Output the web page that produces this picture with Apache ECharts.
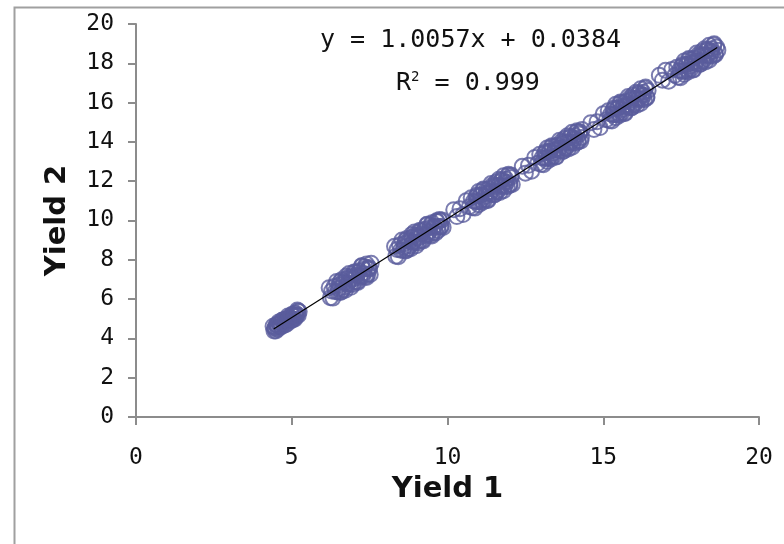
<!DOCTYPE html>
<html>
<head>
<meta charset="utf-8">
<script src="https://cdn.jsdelivr.net/npm/echarts@6/dist/echarts.min.js"></script>
<style>html,body{margin:0;padding:0;background:#fff}#c{width:784px;height:544px}</style>
</head>
<body>
<div id="c"></div>
<script>
// Yield 1 (x) values, first batch, one line per cluster
var yield1 = [
  4.40,4.43,4.46,4.49,4.52,4.55,4.58,4.61,4.64,4.67,4.70,4.73,4.76,4.79,4.82,4.85,4.88,4.91,4.94,4.97,5.00,5.03,5.06,5.09,5.12,5.15,5.18,5.21,5.24,
  6.20,6.24,6.28,6.32,6.36,6.40,6.44,6.48,6.52,6.56,6.60,6.64,6.68,6.72,6.76,6.80,6.84,6.88,6.92,6.96,7.00,7.04,7.08,7.12,7.16,7.20,7.24,7.28,7.32,7.36,7.40,7.44,7.48,7.52,7.55,
  8.30,8.34,8.38,8.42,8.46,8.50,8.54,8.58,8.62,8.66,8.70,8.74,8.78,8.82,8.86,8.90,8.94,8.98,9.02,9.06,9.10,9.14,9.18,9.22,9.26,9.30,9.34,9.38,9.42,9.46,9.50,9.54,9.58,9.62,9.66,9.70,9.74,9.78,9.82,9.86,
  10.20,10.30,10.40,10.50,10.60,10.70,
  10.76,10.80,10.84,10.88,10.92,10.96,11.00,11.04,11.08,11.12,11.16,11.20,11.24,11.28,11.32,11.36,11.40,11.44,11.48,11.52,11.56,11.60,11.64,11.68,11.72,11.76,11.80,11.84,11.88,11.92,11.96,12.00,12.04,12.08,
  12.40,12.50,12.60,12.70,12.80,12.90,
  12.96,13.00,13.04,13.08,13.12,13.16,13.20,13.24,13.28,13.32,13.36,13.40,13.44,13.48,13.52,13.56,13.60,13.64,13.68,13.72,13.76,13.80,13.84,13.88,13.92,13.96,14.00,14.04,14.08,14.12,14.16,14.20,14.24,14.28,14.32,
  14.60,14.70,14.80,14.90,15.00,15.10,
  15.16,15.20,15.24,15.28,15.32,15.36,15.40,15.44,15.48,15.52,15.56,15.60,15.64,15.68,15.72,15.76,15.80,15.84,15.88,15.92,15.96,16.00,16.04,16.08,16.12,16.16,16.20,16.24,16.28,16.32,16.36,16.40,16.44,
  16.80,16.90,17.00,17.10,17.20,17.30,
  17.36,17.40,17.44,17.48,17.52,17.56,17.60,17.64,17.68,17.72,17.76,17.80,17.84,17.88,17.92,17.96,18.00,18.04,18.08,18.12,18.16,18.20,18.24,18.28,18.32,18.36,18.40,18.44,18.48,18.52,18.56,18.60,18.64,18.68
];
// Yield 2 (y) values, first batch, matching yield1
var yield2 = [
  4.62,4.38,4.56,4.38,4.69,4.57,4.84,4.58,4.77,4.59,4.92,4.68,4.86,4.68,4.99,4.87,5.14,4.88,5.07,4.89,5.22,4.98,5.16,4.98,5.29,5.17,5.44,5.18,5.37,
  6.58,6.07,6.41,6.05,6.64,6.38,6.90,6.36,6.72,6.34,6.98,6.47,6.81,6.45,7.04,6.78,7.30,6.76,7.12,6.74,7.38,6.87,7.21,6.85,7.44,7.18,7.70,7.16,7.52,7.14,7.78,7.27,7.61,7.25,7.83,
  8.69,8.18,8.52,8.16,8.75,8.49,9.01,8.47,8.83,8.45,9.09,8.58,8.92,8.56,9.15,8.89,9.41,8.87,9.23,8.85,9.49,8.98,9.32,8.96,9.55,9.29,9.81,9.27,9.63,9.25,9.89,9.38,9.72,9.36,9.95,9.69,10.05,9.67,10.03,9.65,
  10.55,10.20,10.60,10.30,11.00,10.70,
  11.16,10.65,10.99,10.63,11.22,10.96,11.48,10.94,11.30,10.92,11.56,11.05,11.39,11.03,11.62,11.36,11.88,11.34,11.70,11.32,11.96,11.45,11.79,11.43,12.02,11.76,12.28,11.74,12.10,11.72,12.36,11.85,12.19,11.83,
  12.76,12.41,12.81,12.51,13.21,12.91,
  13.37,12.86,13.20,12.84,13.43,13.17,13.69,13.15,13.51,13.13,13.77,13.26,13.60,13.24,13.83,13.57,14.09,13.55,13.91,13.53,14.17,13.66,14.00,13.64,14.23,13.97,14.49,13.95,14.31,13.93,14.57,14.06,14.40,14.04,14.63,
  14.98,14.63,15.03,14.73,15.43,15.13,
  15.59,15.08,15.42,15.06,15.65,15.39,15.91,15.37,15.73,15.35,15.99,15.48,15.82,15.46,16.05,15.79,16.31,15.77,16.13,15.75,16.39,15.88,16.22,15.86,16.45,16.19,16.71,16.17,16.53,16.15,16.79,16.28,16.62,
  17.39,17.14,17.64,17.09,17.69,17.39,
  17.80,17.29,17.63,17.27,17.86,17.60,18.12,17.58,17.94,17.56,18.20,17.69,18.03,17.67,18.26,18.00,18.52,17.98,18.34,17.96,18.60,18.09,18.43,18.07,18.66,18.40,18.92,18.38,18.74,18.36,19.00,18.49,18.83,18.67
];
// Yield 1 (x) values, second batch (dense cores of the clusters)
var yield1b = [
  4.45,4.50,4.55,4.60,4.65,4.70,4.75,4.80,4.85,4.90,4.95,5.00,5.05,5.10,5.15,5.20,
  6.50,6.55,6.60,6.65,6.70,6.75,6.80,6.85,6.90,6.95,7.00,7.05,7.10,7.15,7.20,7.25,7.30,7.35,7.40,7.45,7.50,
  8.60,8.65,8.70,8.75,8.80,8.85,8.90,8.95,9.00,9.05,9.10,9.15,9.20,9.25,9.30,9.35,9.40,9.45,9.50,9.55,9.60,9.65,9.70,9.75,9.80,
  10.90,10.95,11.00,11.05,11.10,11.15,11.20,11.25,11.30,11.35,11.40,11.45,11.50,11.55,11.60,11.65,11.70,11.75,11.80,11.85,11.90,11.95,12.00,12.05,
  13.10,13.15,13.20,13.25,13.30,13.35,13.40,13.45,13.50,13.55,13.60,13.65,13.70,13.75,13.80,13.85,13.90,13.95,14.00,14.05,14.10,14.15,14.20,14.25,14.30,
  15.30,15.35,15.40,15.45,15.50,15.55,15.60,15.65,15.70,15.75,15.80,15.85,15.90,15.95,16.00,16.05,16.10,16.15,16.20,16.25,16.30,16.35,16.40,
  17.50,17.55,17.60,17.65,17.70,17.75,17.80,17.85,17.90,17.95,18.00,18.05,18.10,18.15,18.20,18.25,18.30,18.35,18.40,18.45,18.50,18.55,18.60
];
// Yield 2 (y) values, second batch, matching yield1b
var yield2b = [
  4.49,4.69,4.47,4.75,4.63,4.94,4.78,4.98,4.74,4.98,4.99,5.19,4.97,5.25,5.13,5.40,
  6.53,6.88,6.38,6.88,6.60,7.18,6.80,7.15,6.60,7.05,7.03,7.38,6.88,7.38,7.10,7.68,7.30,7.65,7.10,7.55,7.53,
  8.64,8.99,8.49,8.99,8.71,9.29,8.91,9.26,8.71,9.16,9.14,9.49,8.99,9.49,9.21,9.79,9.41,9.76,9.21,9.66,9.64,9.99,9.49,9.99,9.71,
  10.95,11.30,10.80,11.30,11.02,11.60,11.22,11.57,11.02,11.47,11.45,11.80,11.30,11.80,11.52,12.10,11.72,12.07,11.52,11.97,11.95,12.30,11.80,12.30,
  13.16,13.51,13.01,13.51,13.23,13.81,13.43,13.78,13.23,13.68,13.66,14.01,13.51,14.01,13.73,14.31,13.93,14.28,13.73,14.18,14.16,14.51,14.01,14.51,14.23,
  15.38,15.73,15.23,15.73,15.45,16.03,15.65,16.00,15.45,15.90,15.88,16.23,15.73,16.23,15.95,16.53,16.15,16.50,15.95,16.40,16.38,16.73,16.23,
  17.59,17.94,17.44,17.94,17.66,18.24,17.86,18.21,17.66,18.11,18.09,18.44,17.94,18.44,18.16,18.74,18.36,18.71,18.16,18.61,18.59,18.94,18.44
];
// Linear trend line endpoints (Yield 1, Yield 2)
var trendX = [4.42, 18.66];
var trendY = [4.48, 18.80];
var xTicks = [0, 5, 10, 15, 20];
var yTicks = [0, 2, 4, 6, 8, 10, 12, 14, 16, 18, 20];
var equationText = 'y = 1.0057x + 0.0384';
var r2Text = '0.999';

var points = yield1.map(function (x, i) { return [x, yield2[i]]; })
  .concat(yield1b.map(function (x, i) { return [x, yield2b[i]]; }));
var trend = trendX.map(function (x, i) { return [x, trendY[i]]; });

var chart = echarts.init(document.getElementById('c'));
var axisLine = { show: true, lineStyle: { color: '#8c8c8c', width: 2 } };
var axisTick = { show: true, length: 8, lineStyle: { color: '#8c8c8c', width: 2 } };
var monoFont = 'DejaVu Sans Mono';
chart.setOption({
  animation: false,
  backgroundColor: '#fff',
  grid: { left: 136, right: 25, top: 24, bottom: 127, containLabel: false },
  xAxis: {
    type: 'value', min: xTicks[0], max: xTicks[xTicks.length - 1], interval: 5,
    splitLine: { show: false }, axisLine: axisLine, axisTick: axisTick,
    axisLabel: { margin: 30, color: '#111', fontFamily: monoFont, fontSize: 23 },
    name: 'Yield 1', nameLocation: 'middle', nameGap: 56,
    nameTextStyle: { fontFamily: 'DejaVu Sans', fontWeight: 'bold', fontSize: 29, color: '#111' }
  },
  yAxis: {
    type: 'value', min: yTicks[0], max: yTicks[yTicks.length - 1], interval: 2,
    splitLine: { show: false }, axisLine: axisLine, axisTick: axisTick,
    axisLabel: { margin: 22, color: '#111', fontFamily: monoFont, fontSize: 23 },
    name: 'Yield 2', nameLocation: 'middle', nameGap: 64,
    nameTextStyle: { fontFamily: 'DejaVu Sans', fontWeight: 'bold', fontSize: 29, color: '#111' }
  },
  series: [
    {
      type: 'scatter', data: points, symbol: 'circle', symbolSize: 15,
      itemStyle: { color: 'rgba(0,0,0,0)', borderColor: '#5a5c9c', borderWidth: 2 },
      z: 2
    },
    {
      type: 'line', data: trend, symbol: 'none',
      lineStyle: { color: '#000', width: 1.2 }, z: 3
    }
  ],
  graphic: [
    { type: 'rect', left: 12, top: 5, shape: { width: 900, height: 700 },
      style: { fill: 'none', stroke: '#a0a0a0', lineWidth: 2 }, silent: true },
    { type: 'text', left: 320, top: 28,
      style: { text: equationText, font: '25px "DejaVu Sans Mono"', fill: '#111' } },
    { type: 'text', left: 396, top: 70,
      style: { text: 'R{sup|2} = ' + r2Text, font: '25px "DejaVu Sans Mono"', fill: '#111',
        rich: { sup: { fontSize: 14, fontFamily: 'DejaVu Sans Mono', verticalAlign: 'top', padding: [0, 0, 12, 0] } } } }
  ]
});
</script>
</body>
</html>
